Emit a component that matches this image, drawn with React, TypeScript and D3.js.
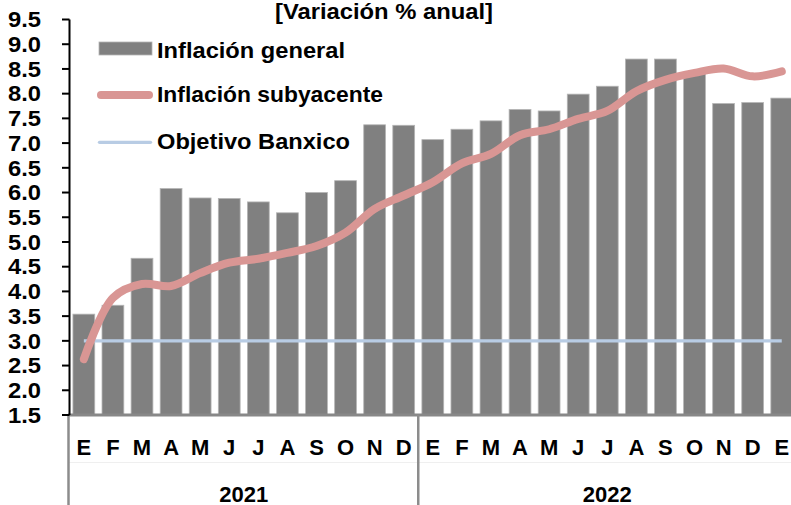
import React from "react";
import * as d3 from "d3";

const months: string[] = ["E","F","M","A","M","J","J","A","S","O","N","D","E","F","M","A","M","J","J","A","S","O","N","D","E"];
const years: string[] = ["2021", "2022"];
const yearSpans: number[] = [12, 13];
const general: number[] = [3.54,3.72,4.67,6.08,5.89,5.88,5.81,5.59,6.00,6.24,7.37,7.36,7.07,7.28,7.45,7.68,7.65,7.99,8.15,8.70,8.70,8.41,7.80,7.82,7.91];
const subyacente: number[] = [2.63,3.87,4.15,4.11,4.37,4.58,4.66,4.78,4.92,5.19,5.67,5.94,6.21,6.59,6.78,7.16,7.28,7.49,7.65,8.05,8.28,8.42,8.51,8.35,8.45];
const objetivo = 3.0;
const yTicks: number[] = [1.5,2,2.5,3,3.5,4,4.5,5,5.5,6,6.5,7,7.5,8,8.5,9,9.5];
const title = "[Variación % anual]";
const legendLabels: string[] = ["Inflación general", "Inflación subyacente", "Objetivo Banxico"];

const W = 791, H = 505;
const FONT = "'Liberation Sans', Arial, Helvetica, sans-serif";

export default function App() {
  const idx = months.map((_, i) => i);
  const x = d3.scaleBand<number>().domain(idx).range([69.3, 796.3]).paddingInner(0.25).paddingOuter(0.125);
  const y = d3.scaleLinear().domain([1.5, 9.5]).range([415, 19.5]);
  const cx = (i: number) => (x(i) as number) + x.bandwidth() / 2;
  const step = x.step();
  const x0 = 69.3;

  const line = d3.line<number>().x((_, i) => cx(i)).y((d) => y(d)).curve(d3.curveCatmullRom.alpha(0.5));

  let acc = 0;
  const groups = yearSpans.map((n, gi) => {
    const start = x0 + acc * step;
    acc += n;
    const end = x0 + acc * step;
    return { label: years[gi], start, end };
  });

  return (
    <svg width={W} height={H} style={{ position: "absolute", left: 0, top: 0, display: "block", background: "#fff" }} fontFamily={FONT} fontWeight="bold">
      {/* title */}
      <text x={275} y={18.5} fontSize={22} textLength={218} lengthAdjust="spacingAndGlyphs">{title}</text>

      {/* faint row separator */}
      <line x1={69} x2={W} y1={462.5} y2={462.5} stroke="#efefef" strokeWidth={1} />

      {/* bars */}
      {general.map((v, i) => (
        <rect key={"b" + i} x={x(i)} y={y(v)} width={x.bandwidth()} height={y(1.5) - y(v)} fill="#808080" stroke="#b5b5b5" strokeWidth={0.8} />
      ))}

      {/* objective */}
      <line x1={cx(0)} x2={cx(months.length - 1)} y1={y(objetivo)} y2={y(objetivo)} stroke="#b8cce4" strokeWidth={3.3} />

      {/* core line */}
      <path d={line(subyacente) || ""} fill="none" stroke="#d99694" strokeWidth={8} strokeLinecap="round" strokeLinejoin="round" />

      {/* x axis line */}
      <line x1={68} x2={W} y1={415} y2={415} stroke="#888" strokeWidth={3} />
      {/* group separators */}
      {groups.map((g, gi) => (
        <line key={"sep" + gi} x1={g.start - (gi === 0 ? 0.8 : 0)} x2={g.start - (gi === 0 ? 0.8 : 0)} y1={415} y2={H} stroke="#8c8c8c" strokeWidth={2.5} />
      ))}

      {/* y axis */}
      <line x1={69.5} x2={69.5} y1={y(9.5)} y2={y(1.5)} stroke="#000" strokeWidth={2} />
      {yTicks.map((t) => (
        <g key={"t" + t}>
          <line x1={62} x2={69.5} y1={y(t)} y2={y(t)} stroke="#000" strokeWidth={2} />
          <text x={41} y={y(t) + 7.8} fontSize={22} textAnchor="end" textLength={33} lengthAdjust="spacingAndGlyphs">{t.toFixed(1)}</text>
        </g>
      ))}

      {/* month labels */}
      {months.map((m, i) => (
        <text key={"m" + i} x={cx(i)} y={455} fontSize={22} textAnchor="middle">{m}</text>
      ))}
      {/* year labels */}
      {groups.map((g) => (
        <text key={g.label} x={(g.start + g.end) / 2} y={501.5} fontSize={22} textAnchor="middle">{g.label}</text>
      ))}

      {/* legend */}
      <rect x={99} y={42} width={53} height={13} fill="#808080" stroke="#b5b5b5" strokeWidth={0.8} />
      <text x={157} y={57.5} fontSize={22} textLength={188} lengthAdjust="spacingAndGlyphs">{legendLabels[0]}</text>
      <line x1={101} x2={149} y1={95} y2={95} stroke="#d99694" strokeWidth={8} strokeLinecap="round" />
      <text x={157} y={101.5} fontSize={22} textLength={226} lengthAdjust="spacingAndGlyphs">{legendLabels[1]}</text>
      <line x1={99.5} x2={150.5} y1={142.3} y2={142.3} stroke="#b8cce4" strokeWidth={3.3} strokeLinecap="round" />
      <text x={157} y={148.8} fontSize={22} textLength={193} lengthAdjust="spacingAndGlyphs">{legendLabels[2]}</text>
    </svg>
  );
}
